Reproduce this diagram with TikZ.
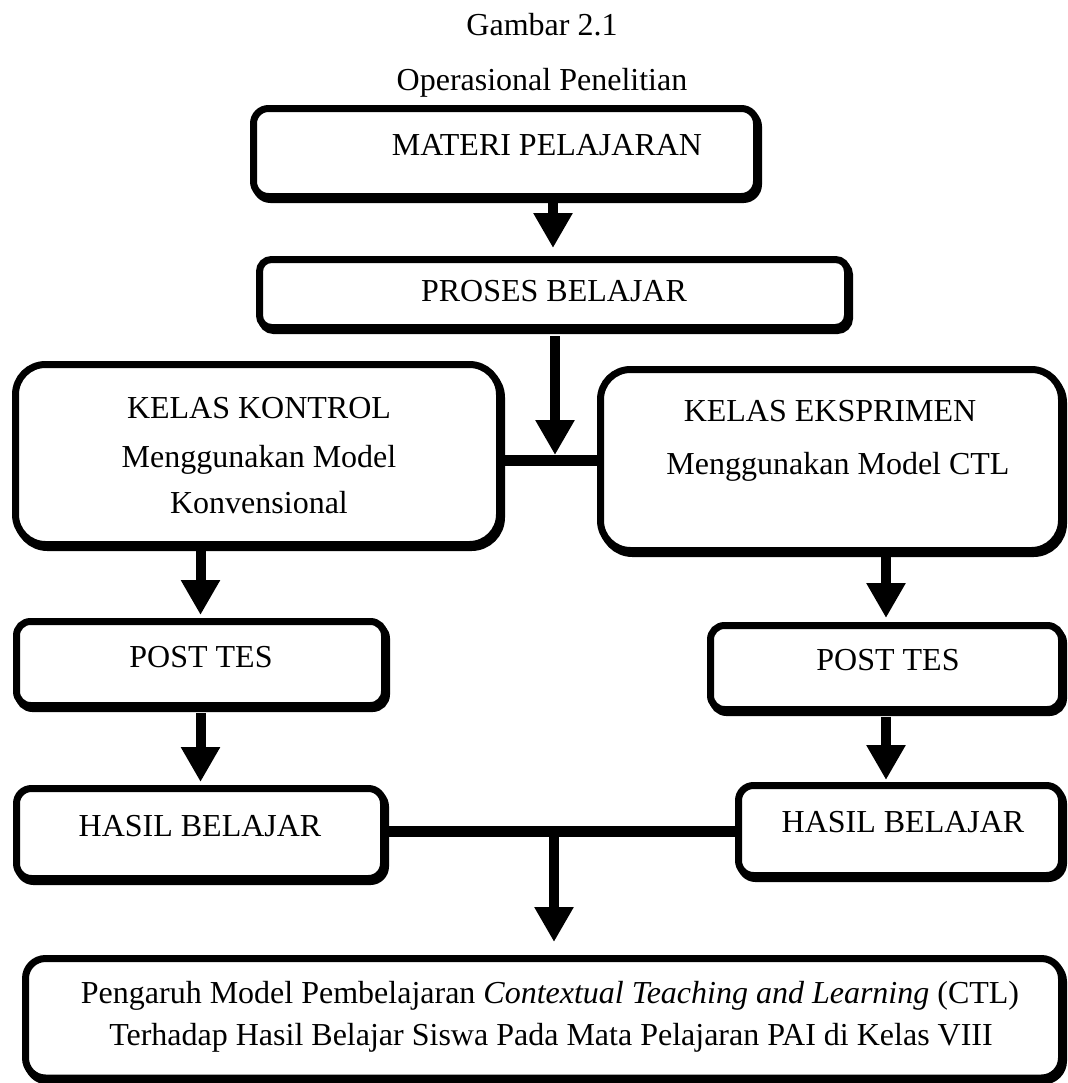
\documentclass[tikz,border=0pt]{standalone}
\usepackage{fontspec}
\setmainfont{Liberation Serif}
\usetikzlibrary{arrows.meta}
\begin{document}
\begin{tikzpicture}[x=0.5pt,y=-0.5pt,
  box/.style={rectangle, draw=black, fill=white, line width=3.5pt, inner sep=0pt,
    preaction={draw=black, line width=3.5pt, transform canvas={shift={(1pt,-1.5pt)}}}},
  txt/.style={anchor=base, inner sep=0pt, font=\fontsize{16pt}{19pt}\selectfont},
  arr/.style={line width=5pt, -{Triangle[width=18.5pt,length=17.5pt]}},
  bar/.style={line width=5.5pt}]
\useasboundingbox (0,0) rectangle (1067,1083);

% boxes
\node[box, rounded corners=7.5pt, minimum width=251.5pt, minimum height=44pt] (materi) at (505,152.5) {};
\node[box, rounded corners=6pt, minimum width=294pt, minimum height=34pt] (proses) at (553.5,293.5) {};
\node[box, rounded corners=15pt, minimum width=242pt, minimum height=90pt] (kontrol) at (257.5,454.5) {};
\node[box, rounded corners=15pt, minimum width=230.5pt, minimum height=90.5pt] (eksp) at (831,460) {};
\node[box, rounded corners=7pt, minimum width=184pt, minimum height=42pt] (postL) at (200.5,663.5) {};
\node[box, rounded corners=7pt, minimum width=175.5pt, minimum height=42pt] (postR) at (886,667.5) {};
\node[box, rounded corners=7.5pt, minimum width=183.5pt, minimum height=45pt] (hasilL) at (200,833.5) {};
\node[box, rounded corners=7.5pt, minimum width=161.5pt, minimum height=45pt] (hasilR) at (900,830.5) {};
\node[box, rounded corners=10pt, minimum width=518pt, minimum height=59.75pt] (akhir) at (543.5,1018.25) {};

% helper coordinates
\coordinate (c1) at (553,0);
\coordinate (j1) at (555,460);
\coordinate (j2) at (554,831);
\coordinate (tip3) at (554,942);

% connectors
\draw[arr, shorten >=4pt] (materi.south -| c1) -- (proses.north -| c1);
\draw[arr, shorten <=2.5pt, shorten >=2.5pt] (proses.south -| j1) -- (j1);
\draw[bar] (kontrol.east |- j1) -- (eksp.west |- j1);
\draw[arr, shorten >=1.5pt] (kontrol.south -| postL.north) -- (postL.north);
\draw[arr, shorten >=2pt] (eksp.south -| postR.north) -- (postR.north);
\draw[arr, shorten <=2pt, shorten >=1.5pt] (postL.south) -- (postL.south |- hasilL.north);
\draw[arr, shorten <=2pt, shorten >=1pt] (postR.south) -- (postR.south |- hasilR.north);
\draw[bar] (hasilL.east |- j2) -- (hasilR.west |- j2);
\draw[arr] (j2) -- (tip3);

% texts
\node[txt] (t1) at (542,35) {Gambar 2.1};
\node[txt] (t2) at (542,90) {Operasional Penelitian};
\node[txt] (tm) at (547,155) {MATERI PELAJARAN};
\node[txt] (tp) at (554,301) {PROSES BELAJAR};
\node[txt] (tk1) at (259,418) {KELAS KONTROL};
\node[txt] (tk2) at (259,467) {Menggunakan Model};
\node[txt] (tk3) at (259,513) {Konvensional};
\node[txt] (te1) at (830,421) {KELAS EKSPRIMEN};
\node[txt] (te2) at (838,474) {Menggunakan Model CTL};
\node[txt] (tpl) at (201,667) {POST TES};
\node[txt] (tpr) at (888,670) {POST TES};
\node[txt] (thl) at (200,836) {HASIL BELAJAR};
\node[txt] (thr) at (903,832) {HASIL BELAJAR};
\node[txt] (ta1) at (550,1003) {Pengaruh Model Pembelajaran \textit{Contextual Teaching and Learning} (CTL)};
\node[txt] (ta2) at (551,1045) {Terhadap Hasil Belajar Siswa Pada Mata Pelajaran PAI di Kelas VIII};
\end{tikzpicture}
\end{document}
